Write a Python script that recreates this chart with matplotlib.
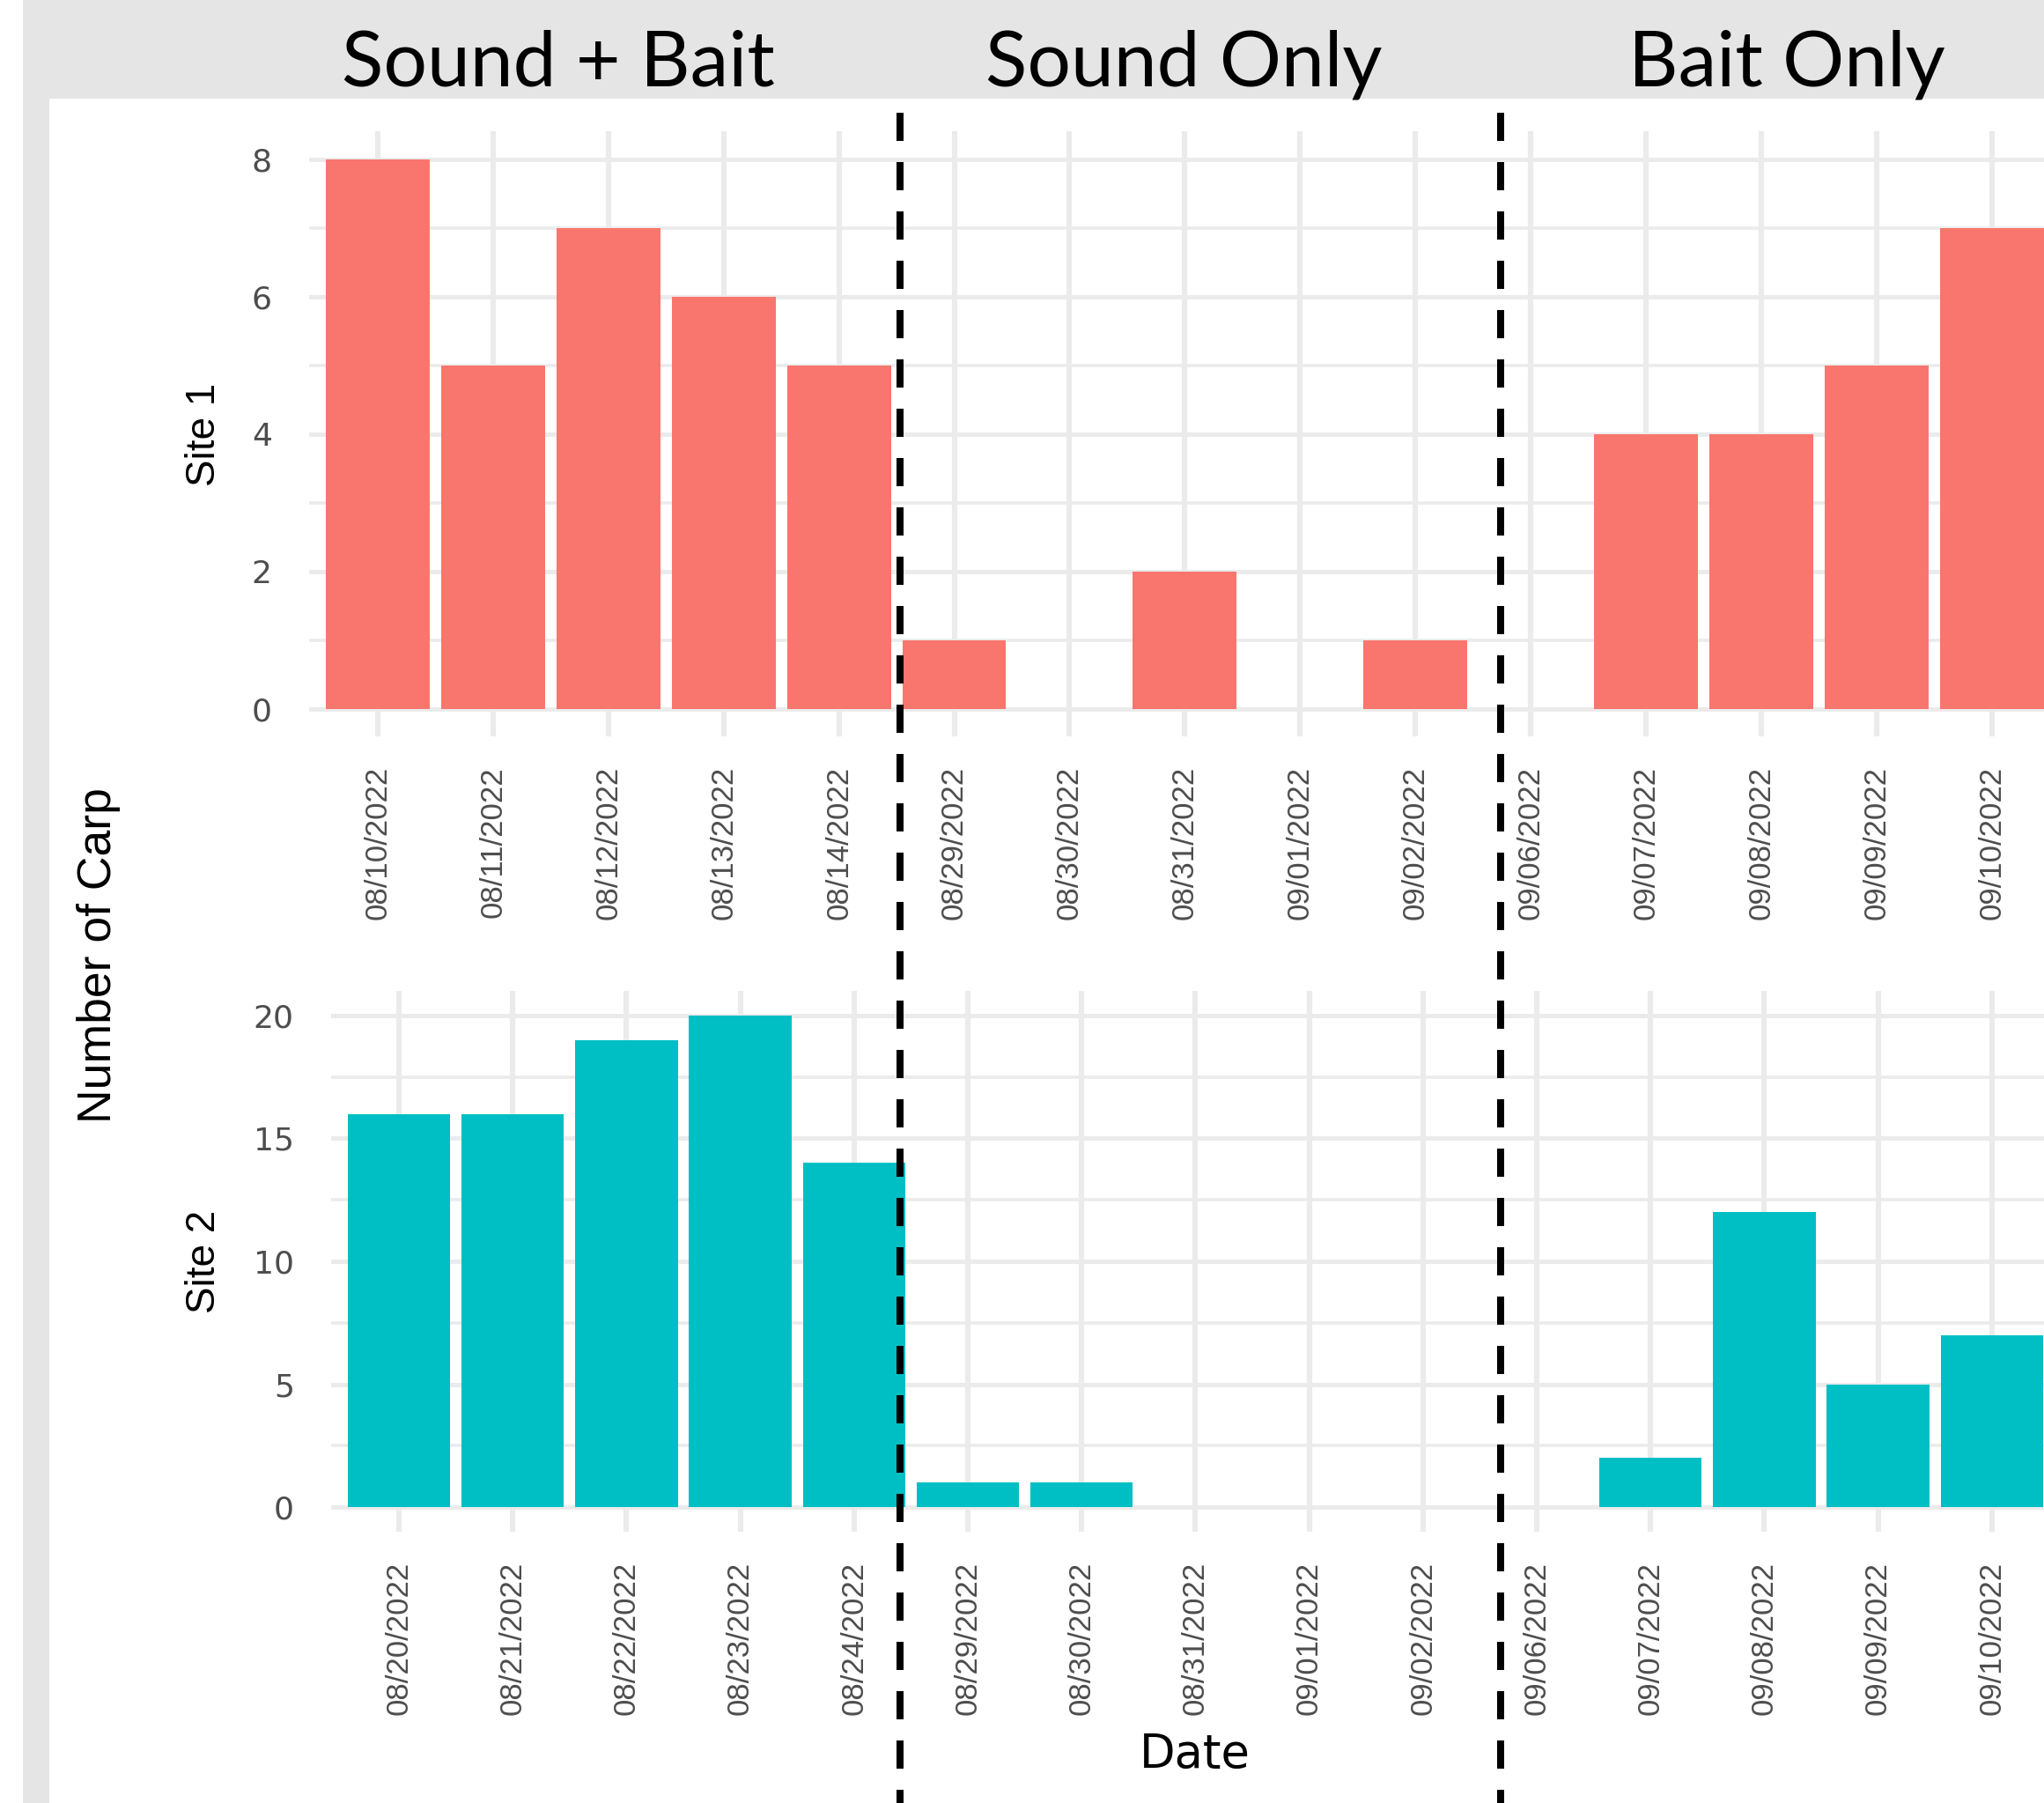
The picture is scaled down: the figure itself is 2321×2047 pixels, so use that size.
import matplotlib.pyplot as plt
from matplotlib.patches import Rectangle
from matplotlib.lines import Line2D
import numpy as np

# data
dates_site1 = ["08/10/2022", "08/11/2022", "08/12/2022", "08/13/2022", "08/14/2022",
               "08/29/2022", "08/30/2022", "08/31/2022", "09/01/2022", "09/02/2022",
               "09/06/2022", "09/07/2022", "09/08/2022", "09/09/2022", "09/10/2022"]
carp_site1 = [8, 5, 7, 6, 5, 1, 0, 2, 0, 1, 0, 4, 4, 5, 7]

dates_site2 = ["08/20/2022", "08/21/2022", "08/22/2022", "08/23/2022", "08/24/2022",
               "08/29/2022", "08/30/2022", "08/31/2022", "09/01/2022", "09/02/2022",
               "09/06/2022", "09/07/2022", "09/08/2022", "09/09/2022", "09/10/2022"]
carp_site2 = [16, 16, 19, 20, 14, 1, 1, 0, 0, 0, 0, 2, 12, 5, 7]

treatments = ["Sound + Bait", "Sound Only", "Bait Only"]

W, H = 2321, 2047
SANS = ["Liberation Sans", "DejaVu Sans"]
TEXT_GREY = "#4d4d4d"
GRID = "#ebebeb"

plt.close()
fig = plt.figure(figsize=(W / 100, H / 100), dpi=100)
fig.patch.set_facecolor("white")


def fx(px):
    return px / W


def fy(py):
    return 1 - py / H


# grey slide frame (top band + left strip)
fig.patches.append(Rectangle((fx(26), fy(112)), 1, 1, transform=fig.transFigure,
                             facecolor="#e5e5e5", edgecolor="none", zorder=-5))
fig.patches.append(Rectangle((fx(26), 0), fx(30), fy(112), transform=fig.transFigure,
                             facecolor="#e5e5e5", edgecolor="none", zorder=-5))


def panel(left, top, spacing, bottom, dates, values, color, ymax, yticks, yminor):
    n = len(dates)
    width = (n + 0.2) * spacing
    ax = fig.add_axes([fx(left), fy(bottom), width / W, (bottom - top) / H])
    ax.bar(np.arange(n), values, width=0.9, color=color, zorder=2)
    ax.set_xlim(-0.6, n - 0.4)
    pad = ymax * 0.05
    ax.set_ylim(-pad, ymax + pad)
    ax.set_xticks(np.arange(n))
    ax.set_xticklabels(dates, rotation=90, family=SANS, fontsize=25, color=TEXT_GREY)
    ax.set_yticks(yticks)
    ax.set_yticklabels([str(t) for t in yticks], family="DejaVu Sans", fontsize=26,
                       color=TEXT_GREY)
    ax.set_yticks(yminor, minor=True)
    ax.tick_params(axis="x", length=0, pad=24.5)
    ax.tick_params(axis="y", which="both", length=0, pad=30)
    ax.grid(which="major", axis="y", color=GRID, lw=3.6)
    ax.grid(which="minor", axis="y", color=GRID, lw=2.6)
    ax.grid(which="major", axis="x", color=GRID, lw=4.4)
    ax.set_axisbelow(True)
    for s in ax.spines.values():
        s.set_visible(False)
    return ax


ax1 = panel(350.5, 149.4, 130.9, 836, dates_site1, carp_site1, "#F8766D",
            8, [0, 2, 4, 6, 8], [1, 3, 5, 7])
ax2 = panel(375.5, 1125, 129.2, 1739, dates_site2, carp_site2, "#00BFC4",
            20, [0, 5, 10, 15, 20], [2.5, 7.5, 12.5, 17.5])

# facet / axis titles
fig.text(fx(232), fy(493), "Site 1", rotation=90, ha="center", va="center",
         family=SANS, fontsize=33, color="black")
fig.text(fx(232), fy(1432), "Site 2", rotation=90, ha="center", va="center",
         family=SANS, fontsize=33, color="black")
fig.text(fx(112), fy(1085), "Number of Carp", rotation=90, ha="center", va="center",
         family=SANS, fontsize=38.5, color="black")
fig.text(fx(1357), fy(1992), "Date", ha="center", va="center",
         family="DejaVu Sans", fontsize=38, color="black")

# treatment headers
for label, cx in zip(treatments, [634, 1344, 2029]):
    fig.text(fx(cx), fy(98), label, ha="center", va="baseline",
             family=["Lato", "DejaVu Sans"], fontsize=63, color="black")

# dashed separators between treatments
for lx in [1022, 1704]:
    fig.add_artist(Line2D([fx(lx), fx(lx)], [fy(128), 0], transform=fig.transFigure,
                          color="black", lw=5.76, linestyle=(0, (4, 3)),
                          dash_capstyle="butt", zorder=10))

plt.savefig("out.png", dpi=100)
